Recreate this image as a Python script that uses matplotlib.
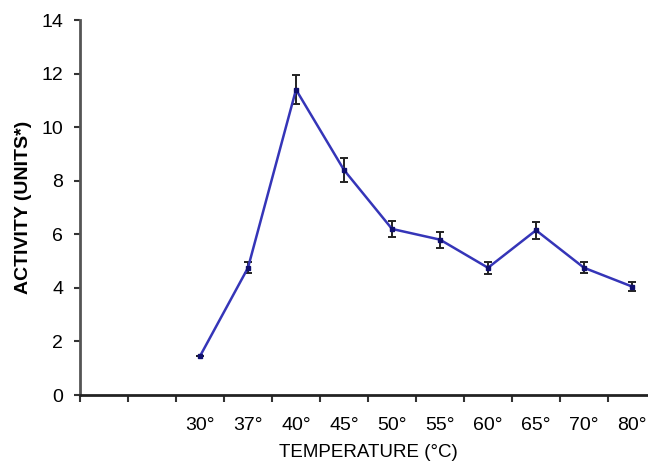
import numpy as np
import matplotlib
matplotlib.use("Agg")
import matplotlib.pyplot as plt

# two empty slots on the left of the category axis, as in the original
slots = ["", "", "30°", "37°", "40°", "45°", "50°", "55°", "60°", "65°", "70°", "80°"]
temps = ["30°", "37°", "40°", "45°", "50°", "55°", "60°", "65°", "70°", "80°"]
activity = [1.45, 4.75, 11.4, 8.4, 6.2, 5.8, 4.75, 6.15, 4.75, 4.05]
error = [0.0, 0.2, 0.55, 0.45, 0.3, 0.3, 0.22, 0.32, 0.2, 0.18]

plt.rcParams["font.family"] = ["Liberation Sans", "DejaVu Sans"]

fig = plt.figure(figsize=(6.48, 4.69), dpi=100)
ax = fig.add_axes([80 / 648, 1 - 395 / 469, 576 / 648, 375 / 469])

x = np.array([slots.index(t) for t in temps])
ax.errorbar(x, activity, yerr=error, color="#3535b8", lw=1.8,
            marker="s", ms=3, mfc="#101070", mec="#101070",
            ecolor="#222222", elinewidth=1.4, capsize=3, capthick=1.4)

ax.set_xlim(-0.5, len(slots) - 0.5)
ax.set_ylim(0, 14)
ax.set_yticks(np.arange(0, 15, 2))

ax.set_xticks(np.arange(len(slots)))
ax.set_xticklabels(slots, fontsize=14)
ax.set_xticks(np.arange(len(slots)) - 0.5, minor=True)
ax.tick_params(axis="x", which="major", length=0, pad=16)
ax.tick_params(axis="x", which="minor", length=5, width=1.5, color="#333333")
ax.tick_params(axis="y", length=4, width=1.5, color="#333333", pad=8, labelsize=14)

for side in ["top", "right"]:
    ax.spines[side].set_visible(False)
ax.spines["left"].set_color("#555555")
ax.spines["left"].set_linewidth(2)
ax.spines["bottom"].set_color("#222222")
ax.spines["bottom"].set_linewidth(2)

ax.set_xlabel("TEMPERATURE (°C)", fontsize=13.5, labelpad=7)
ax.set_ylabel("ACTIVITY (UNITS*)", fontsize=14, fontweight="bold", labelpad=7)

fig.savefig("out.png", dpi=100)
